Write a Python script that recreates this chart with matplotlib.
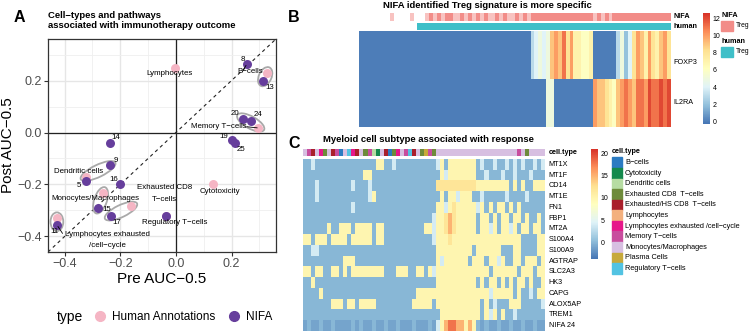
import numpy as np
import matplotlib.pyplot as plt
from matplotlib.colors import LinearSegmentedColormap, ListedColormap
from matplotlib.patches import Ellipse, Rectangle
from matplotlib.lines import Line2D

plt.rcParams['font.family'] = ['Liberation Sans', 'DejaVu Sans']

W, H = 750, 332
MINUS = "\u2212"

# ---------------- panel A data ----------------
human_names = ["Lymphocytes", "B-cells", "Memory T-cells", "Dendritic cells", "Cytotoxicity",
               "Monocytes/Macrophages", "Exhausted CD8 T-cells", "Regulatory T-cells",
               "Lymphocytes exhausted /cell-cycle"]
human_pre = [-0.005, 0.327, 0.297, -0.322, 0.135, -0.262, -0.160, -0.034, -0.428]
human_post = [0.250, 0.230, 0.018, -0.170, -0.200, -0.232, -0.283, -0.322, -0.330]

nifa_ids = ["8", "13", "20", "24", "19", "25", "14", "9", "5", "16", "15", "17", "11", ""]
nifa_pre = [0.257, 0.315, 0.240, 0.270, 0.203, 0.214, -0.238, -0.238, -0.322, -0.202,
            -0.280, -0.235, -0.428, -0.034]
nifa_post = [0.265, 0.200, 0.053, 0.045, -0.027, -0.042, -0.042, -0.126, -0.187, -0.200,
             -0.290, -0.322, -0.357, -0.322]

# human annotation paired with the NIFA clusters circled next to it
groups = [("B-cells", ["13"]), ("Memory T-cells", ["20", "24"]), ("Dendritic cells", ["9"]),
          ("Monocytes/Macrophages", ["15"]), ("Exhausted CD8 T-cells", ["17"]),
          ("Lymphocytes exhausted /cell-cycle", ["11"])]

# ---------------- panel B data ----------------
treg_genes = ["FOXP3", "IL2RA"]
foxp3 = ("00000000000000000000"
         "00000000000000000000"
         "000034545"
         "9a9b8a77667"
         "0000003524"
         "8a97a879a8")
il2ra = ("00000000000000000000"
         "00000000000000000000"
         "0000000055"
         "0000000000"
         "a99876"
         "9aba9bbacbbcbc")
nifa_bar = ("0000000010000100"
            "0"
            "121212211212121211212112121"
            "2222222222222222"
            "12121"
            "222222222222222")
human_bar = ("000000000000000"
             "1111111111111111111111111111111111111111"
             "1111111111111111111111111")

# ---------------- panel C data ----------------
myeloid_genes = ["MT1X", "MT1F", "CD14", "MT1E", "FN1", "FBP1", "MT2A", "S100A4", "S100A9",
                 "AGTRAP", "SLC2A3", "HK3", "CAPG", "ALOX5AP", "TREM1", "NIFA 24"]
myeloid_rows = [
    "..:......." "........yy" "..:......." "...:y.yyyy" "yyy.:..:.." ":.:.:..:.:",
    ".........." ".....yy..." ".........." "....y:yyyy" "yyy..:...:" "..:...:...",
    "...:......" "..:...:..." ".........." "...YYYYYYY" "YYYyyyyyyy" "y.y.y..yyy",
    "...:......" "......:y.." ".........." "....y.yy:y" "yy..:....." ":....:....",
    ".........." "..:......." ".........." "...yy:yYyy" "yyy:y.y.yy" ".y.y......",
    ".........." ".........." ".........." "..:yyYoYyy" "yyy.yy.y.y" "y.yy.y..y.",
    "......y..y" "yy.yyyy.yy" ".........." "yy:yyYoYyy" "yyy.yy:y.y" "y:y.yy.yy.",
    "yy.yyy.yyy" "y.yyyyy.yy" ".........." "..:yyyYyyy" "yyyyyyyyyy" "yyyy....yy",
    "..::......" ".........." ".........." "...yyyyyyy" "yy.yyyyyy." "..yy....yy",
    ".........." "yyy......." ".........." "...y:yyyyy" "y.yyy.yy:y" "..yy.yyy.y",
    "yy.yy..yy." "y.yyyyyyyy" "...yyy..yy" ".y:yyyyyyy" "yyyyyy.yyy" "yyy.yyy.yy",
    "..y......." ".........." ".........." "...yyyyyyy" "yyy.y.yy.y" ".y.yy.y..y",
    "....y....." ".........." "........yy" "yyyyyyyyyy" "yyyyyy:yyy" "yy.y..:.yy",
    ".......yyy" ".yy.yyyy.." ".......yyy" "yy.yyyyyyy" "yyyy.y.:.." ".yyy.....:",
    ".........." ".........." ".........." "....yyyyyy" "yyyy.y:y.y" "..:.......",
    ",.,,.,,.,," ",,.,.,,.,," ".,,.,,,.,," ",.,:yorroo" "yoy.,.,,.," ",.,,.,,.,,",
]
level_c = {",": -1, ".": 0, ":": 4, "y": 10, "Y": 12, "o": 15, "r": 18}

cell_types = ["B" + MINUS + "cells", "Cytotoxicity", "Dendritic cells",
              "Exhausted CD8  T" + MINUS + "cells", "Exhausted/HS CD8  T" + MINUS + "cells",
              "Lymphocytes", "Lymphocytes exhausted /cell" + MINUS + "cycle",
              "Memory T" + MINUS + "cells", "Monocytes/Macrophages", "Plasma Cells",
              "Regulatory T" + MINUS + "cells"]
cell_colors = ["#2B7BC2", "#14894C", "#B6DCA2", "#6E8B3B", "#A91F2B", "#F3B07E",
               "#E6178A", "#C84D9E", "#D7BFE1", "#C7A93B", "#52C3E2"]
cell_bar = "iheigdiehaikgeidhcbieadgihkeidjhd" "iiiiiiiiiiiiiiiiiiii" "hid" "iiii"

PINK = "#F5B5C4"
PURPLE = "#663E9C"
heat = LinearSegmentedColormap.from_list(
    "heat", ["#4575B4", "#91BFDB", "#E0F3F8", "#FFFFBF", "#FEE090", "#FC8D59", "#D73027"])


def rect(l, t, r, b):
    return [l / W, 1 - b / H, (r - l) / W, (b - t) / H]


def fxy(x, y):
    return x / W, 1 - y / H


def nice(s):
    return s.replace("-", MINUS)


fig = plt.figure(figsize=(W / 100, H / 100), dpi=100)

# ======================= A =======================
ax = fig.add_axes(rect(48, 39, 276, 252))
lim = (-0.46, 0.36)
ax.set_xlim(lim)
ax.set_ylim(lim)
for setter in (ax.set_xticks, ax.set_yticks):
    setter([-0.4, -0.2, 0.0, 0.2])
    setter([-0.3, -0.1, 0.1, 0.3], minor=True)
ax.grid(which="major", color="#E6E6E6", lw=1.0)
ax.grid(which="minor", color="#EFEFEF", lw=0.6)
ax.set_axisbelow(True)
ax.tick_params(which="minor", length=0)
ax.tick_params(which="major", length=3, width=0.8, color="#333333",
               labelcolor="#4D4D4D", labelsize=9, pad=1.5)
for s in ax.spines.values():
    s.set_color("#333333")
    s.set_linewidth(0.9)
ax.axhline(0, color="#222222", lw=0.9, zorder=1)
ax.axvline(0, color="#222222", lw=0.9, zorder=1)
ax.axline((0, 0), slope=1, color="#222222", lw=0.8, ls=(0, (3, 3)), zorder=1)

hx = dict(zip(human_names, zip(human_pre, human_post)))
nx = dict(zip(nifa_ids, zip(nifa_pre, nifa_post)))
for hname, ids in groups:
    pts = np.array([hx[hname]] + [nx[i] for i in ids])
    c = pts.mean(axis=0)
    d = pts[np.argmax(np.hypot(*(pts - pts[0]).T))] - pts[0]
    u = d / np.hypot(*d)
    proj = (pts - c) @ u
    ang = np.degrees(np.arctan2(d[1], d[0]))
    ax.add_patch(Ellipse(c, proj.max() - proj.min() + 0.045, 0.046, angle=ang,
                         fill=False, ec="#A9A9A9", lw=1.3, zorder=2))

ax.scatter(human_pre, human_post, s=42, color=PINK, lw=0, zorder=3)
ax.scatter(nifa_pre, nifa_post, s=42, color=PURPLE, lw=0, zorder=4)

human_label_xy = {
    "Lymphocytes": (-0.022, 0.227), "B-cells": (0.267, 0.236),
    "Memory T-cells": (0.153, 0.024), "Dendritic cells": (-0.349, -0.150),
    "Cytotoxicity": (0.159, -0.226), "Monocytes/Macrophages": (-0.289, -0.254),
    "Exhausted CD8 T-cells": (-0.040, -0.2355), "Regulatory T-cells": (-0.005, -0.346),
    "Lymphocytes exhausted /cell-cycle": (-0.246, -0.4145)}
nifa_label_xy = {
    "8": (0.241, 0.281), "13": (0.337, 0.172), "20": (0.213, 0.072), "24": (0.294, 0.069),
    "19": (0.173, -0.014), "25": (0.235, -0.065), "14": (-0.217, -0.020), "9": (-0.217, -0.108),
    "5": (-0.347, -0.204), "16": (-0.224, -0.181), "15": (-0.250, -0.296), "17": (-0.212, -0.345),
    "11": (-0.437, -0.382)}
for name in human_names:
    txt = nice(name).replace("CD8 T", "CD8\nT").replace("exhausted /", "exhausted\n/")
    ax.text(*human_label_xy[name], txt, fontsize=5.7, ha="center", va="center",
            linespacing=1.9, zorder=5)
for nid, (x, y) in nifa_label_xy.items():
    ax.text(x, y, nid, fontsize=5.7, ha="center", va="center", zorder=5)
# label leader segments
ax.plot([0.257, 0.292], [0.022, 0.018], color="black", lw=0.6, zorder=5)
ax.plot([-0.424, -0.408], [-0.362, -0.388], color="black", lw=0.6, zorder=5)
ax.plot([0.252, 0.240], [0.258, 0.236], color="black", lw=0.6, zorder=5)

fig.text(*fxy(162, 279), "Pre AUC" + MINUS + "0.5", fontsize=11, ha="center", va="center")
fig.text(*fxy(8, 145), "Post AUC" + MINUS + "0.5", fontsize=11, ha="center", va="center",
         rotation=90)
fig.text(*fxy(48, 16), "Cell" + MINUS + "types and pathways", fontsize=6.8,
         fontweight="bold", va="center")
fig.text(*fxy(48, 26), "associated with immunotherapy outcome", fontsize=6.8,
         fontweight="bold", va="center")
fig.text(*fxy(70, 317), "type", fontsize=10, ha="center", va="center")
handles = [Line2D([], [], ls="", marker="o", ms=7, mfc=PINK, mec=PINK),
           Line2D([], [], ls="", marker="o", ms=7, mfc=PURPLE, mec=PURPLE)]
fig.legend(handles, ["Human Annotations", "NIFA"], ncol=2, frameon=False, fontsize=8.5,
           loc="center left", bbox_to_anchor=fxy(88, 317), handletextpad=0.4,
           columnspacing=1.0, handlelength=1.2, borderaxespad=0)

# ======================= B =======================
lvl = "0123456789abc"
b_mat = np.array([[lvl.index(ch) for ch in row] for row in (foxp3, il2ra)], dtype=float)
axb = fig.add_axes(rect(359, 31, 671, 127))
imb = axb.imshow(b_mat, cmap=heat, vmin=-0.3, vmax=12.6, aspect="auto",
                 interpolation="nearest")
axb.set_axis_off()
for i, g in enumerate(treg_genes):
    axb.text(1.008, i + 0.15 * (1 - i), g, transform=axb.get_yaxis_transform(),
             fontsize=5.2, va="center")

ax_n = fig.add_axes(rect(359, 13, 671, 21.5))
ax_n.imshow([[int(ch) for ch in nifa_bar]], cmap=ListedColormap(["white", "#F8C3C1", "#F28C88"]),
            vmin=0, vmax=2, aspect="auto", interpolation="nearest")
ax_n.set_axis_off()
ax_h = fig.add_axes(rect(359, 22.5, 671, 30))
ax_h.imshow([[int(ch) for ch in human_bar]], cmap=ListedColormap(["white", "#3FBFC8"]),
            vmin=0, vmax=1, aspect="auto", interpolation="nearest")
ax_h.set_axis_off()
fig.text(*fxy(674, 17), "NIFA", fontsize=5.2, fontweight="bold", va="center")
fig.text(*fxy(674, 26.3), "human", fontsize=5.2, fontweight="bold", va="center")

cax = fig.add_axes(rect(703, 13, 710, 124))
cb = fig.colorbar(imb, cax=cax, ticks=[0, 2, 4, 6, 8, 10, 12])
cb.outline.set_visible(False)
cax.tick_params(length=0, labelsize=5, pad=2)

fig.text(*fxy(721, 15.5), "NIFA", fontsize=5.2, fontweight="bold", va="center")
fig.text(*fxy(721, 41.5), "human", fontsize=5.2, fontweight="bold", va="center")
for (yt, col) in ((20.5, "#F28C88"), (46.5, "#3FBFC8")):
    fig.add_artist(Rectangle(fxy(721, yt + 10.5), 12 / W, 10.5 / H, color=col,
                             transform=fig.transFigure))
    fig.text(*fxy(735.5, yt + 5.3), "Treg", fontsize=4.9, va="center")

fig.text(*fxy(487, 6), "NIFA identified Treg signature is more specific", fontsize=6.8,
         fontweight="bold", ha="center", va="center")

# ======================= C =======================
c_mat = np.array([[level_c[ch] for ch in row] for row in myeloid_rows], dtype=float)
axc = fig.add_axes(rect(303, 159, 545, 331))
imc = axc.imshow(c_mat, cmap=heat, vmin=-3.7, vmax=21, aspect="auto", interpolation="nearest")
axc.set_axis_off()
for i, g in enumerate(myeloid_genes):
    axc.text(1.015, i, g, transform=axc.get_yaxis_transform(), fontsize=5.2, va="center")

ax_ct = fig.add_axes(rect(303, 148.5, 545, 156.5))
ax_ct.imshow([["abcdefghijk".index(ch) for ch in cell_bar]], cmap=ListedColormap(cell_colors),
             vmin=-0.5, vmax=10.5, aspect="auto", interpolation="nearest")
ax_ct.set_axis_off()
fig.text(*fxy(549, 152.5), "cell.type", fontsize=5.2, fontweight="bold", va="center")

cax2 = fig.add_axes(rect(591, 149, 598, 259))
cb2 = fig.colorbar(imc, cax=cax2, ticks=[0, 5, 10, 15, 20])
cb2.outline.set_visible(False)
cax2.tick_params(length=0, labelsize=5, pad=2)

fig.text(*fxy(612, 152), "cell.type", fontsize=5.2, fontweight="bold", va="center")
for i, (lab, col) in enumerate(zip(cell_types, cell_colors)):
    yc = 162.7 + i * 10.57
    fig.add_artist(Rectangle(fxy(612, yc + 5.3), 10 / W, 10.6 / H, color=col,
                             transform=fig.transFigure))
    fig.text(*fxy(625, yc), lab, fontsize=5.3, va="center")

fig.text(*fxy(428, 140), "Myeloid cell subtype associated with response", fontsize=6.8,
         fontweight="bold", ha="center", va="center")

for letter, (x, y) in zip("ABC", [(19, 17), (294, 17), (294, 143)]):
    fig.text(*fxy(x, y), letter, fontsize=11.5, fontweight="bold", ha="center", va="center")

fig.savefig("out.png", dpi=100)
